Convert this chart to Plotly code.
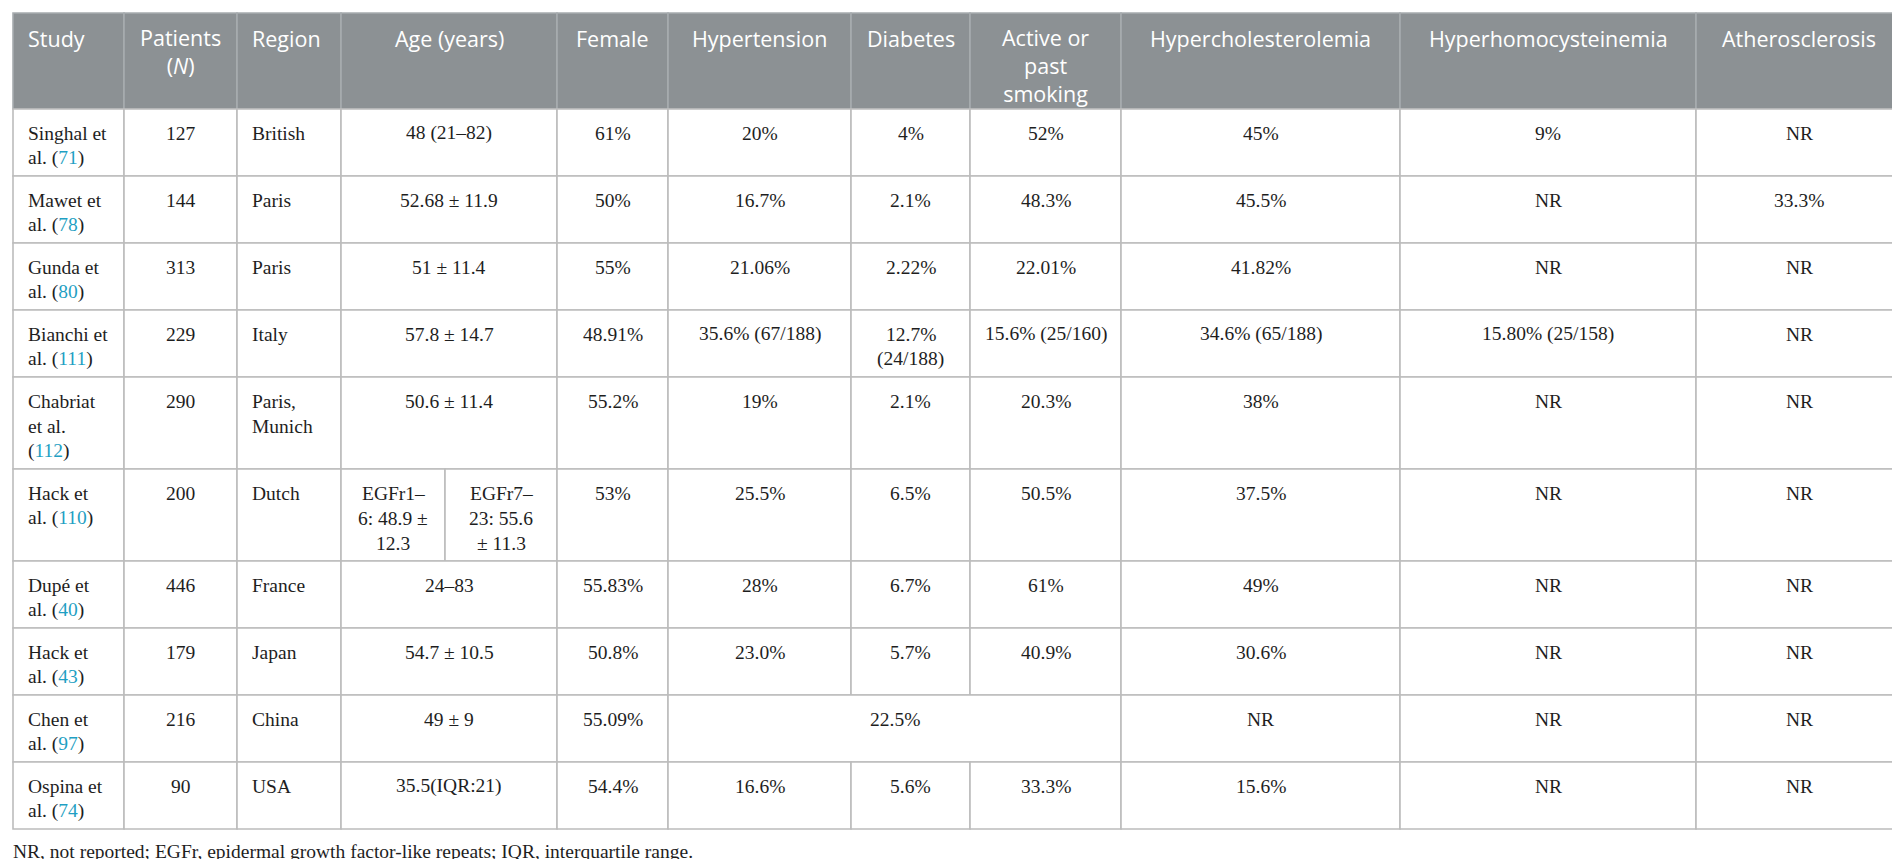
import plotly.graph_objects as go

# --- 数据 ---
header = ["Study", "Patients\n(<i>N</i>)", "Region", "Age (years)", "Female", "Hypertension",
          "Diabetes", "Active or\npast\nsmoking", "Hypercholesterolemia",
          "Hyperhomocysteinemia", "Atherosclerosis"]
header_spans = [1, 1, 1, 2, 1, 1, 1, 1, 1, 1, 1]

authors = ["Singhal", "Mawet", "Gunda", "Bianchi", "Chabriat", "Hack", "Dupé", "Hack", "Chen", "Ospina"]
refs = [71, 78, 80, 111, 112, 110, 40, 43, 97, 74]
patients = [127, 144, 313, 229, 290, 200, 446, 179, 216, 90]
region = ["British", "Paris", "Paris", "Italy", "Paris,\nMunich", "Dutch", "France", "Japan", "China", "USA"]
# 元组 = 年龄单元格被拆成两格
age = ["48 (21–82)", "52.68 ± 11.9", "51 ± 11.4", "57.8 ± 14.7", "50.6 ± 11.4",
       ("EGFr1–\n6: 48.9 ±\n12.3", "EGFr7–\n23: 55.6\n± 11.3"),
       "24–83", "54.7 ± 10.5", "49 ± 9", "35.5(IQR:21)"]
female = ["61%", "50%", "55%", "48.91%", "55.2%", "53%", "55.83%", "50.8%", "55.09%", "54.4%"]
hypertension = ["20%", "16.7%", "21.06%", "35.6% (67/188)", "19%", "25.5%", "28%", "23.0%", "22.5%", "16.6%"]
# None = 与左边单元格合并
diabetes = ["4%", "2.1%", "2.22%", "12.7%\n(24/188)", "2.1%", "6.5%", "6.7%", "5.7%", None, "5.6%"]
smoking = ["52%", "48.3%", "22.01%", "15.6% (25/160)", "20.3%", "50.5%", "61%", "40.9%", None, "33.3%"]
hyperchol = ["45%", "45.5%", "41.82%", "34.6% (65/188)", "38%", "37.5%", "49%", "30.6%", "NR", "15.6%"]
hyperhomo = ["9%", "NR", "NR", "15.80% (25/158)", "NR", "NR", "NR", "NR", "NR", "NR"]
athero = ["NR", "33.3%", "NR", "NR", "NR", "NR", "NR", "NR", "NR", "NR"]

footnote = "NR, not reported; EGFr, epidermal growth factor-like repeats; IQR, interquartile range."

# --- 版式 ---
W, H = 1900, 859
col_edges = [5, 116, 229, 333, 437, 549, 660, 843, 962, 1113, 1392, 1688, 1894]
left_cols = (0, 2)          # Study / Region 左对齐
table_top = 5
head_bg, head_line = "#8c9194", "#a7acaf"
body_line = "#bcbcbc"
text_col, cite_col = "#1e1e1e", "#1f9fc3"
serif, sans = "Liberation Serif", "Open Sans"
body_size, head_size = 19.5, 21.5
body_lh, head_lh = 25, 26


def wrap(text, width=10):
    lines = []
    for w in text.split():
        if lines and len(lines[-1]) + 1 + len(w) <= width:
            lines[-1] += " " + w
        else:
            lines.append(w)
    return "\n".join(lines)


def study_label(i):
    s = wrap(f"{authors[i]} et al. ({refs[i]})")
    return s.replace(f"({refs[i]})", f"(<span style='color:{cite_col}'>{refs[i]}</span>)")


def row_cells(i):
    cells = [[study_label(i), 1], [str(patients[i]), 1], [region[i], 1]]
    a = age[i]
    if isinstance(a, tuple):
        cells += [[a[0], 1], [a[1], 1]]
    else:
        cells.append([a, 2])
    for col in (female, hypertension, diabetes, smoking, hyperchol, hyperhomo, athero):
        if col[i] is None:
            cells[-1][1] += 1
        else:
            cells.append([col[i], 1])
    return cells


shapes, annotations = [], []


def draw_row(cells, top, lh, pad, fill, line, font, first_off, split_lines):
    n = max(t.count("\n") + 1 for t, _ in cells)
    h = pad + n * lh
    c = 0
    for text, span in cells:
        x0, x1 = col_edges[c], col_edges[c + span]
        shapes.append(dict(type="rect", xref="x", yref="y", x0=x0, x1=x1, y0=top, y1=top + h,
                           fillcolor=fill, line=dict(color=line, width=1.6), layer="below"))
        left = c in left_cols
        base = dict(xref="x", yref="y", x=x0 + 13 if left else (x0 + x1) / 2,
                    xanchor="left" if left else "center", yanchor="middle",
                    align="left" if left else "center", showarrow=False, font=font)
        lines = text.split("\n")
        if split_lines:
            # 正文：每行单独放，行距可控
            for k, ln in enumerate(lines):
                annotations.append(dict(base, y=top + first_off + k * lh, text=ln))
        else:
            # 表头：整块多行文字
            step = font["size"] * 1.3
            annotations.append(dict(base, y=top + first_off + (len(lines) - 1) * step / 2,
                                    text="<br>".join(lines)))
        c += span
    return top + h


y = draw_row([[t, s] for t, s in zip(header, header_spans)], table_top, head_lh, 18,
             head_bg, head_line, dict(family=sans, size=head_size, color="white"), 25, False)
for i in range(len(authors)):
    y = draw_row(row_cells(i), y, body_lh, 17, "white", body_line,
                 dict(family=serif, size=body_size, color=text_col), 24, True)

annotations.append(dict(xref="x", yref="y", x=col_edges[0] - 2, y=y + 22, xanchor="left", yanchor="middle",
                        text=footnote, showarrow=False,
                        font=dict(family=serif, size=body_size, color=text_col)))

fig = go.Figure()
fig.update_layout(
    width=W, height=H, margin=dict(l=0, r=0, t=0, b=0),
    paper_bgcolor="white", plot_bgcolor="white",
    xaxis=dict(range=[0, W], visible=False, fixedrange=True),
    yaxis=dict(range=[H, 0], visible=False, fixedrange=True),
    shapes=shapes, annotations=annotations, showlegend=False,
)

fig.write_html("out.html", config={"displayModeBar": False})
